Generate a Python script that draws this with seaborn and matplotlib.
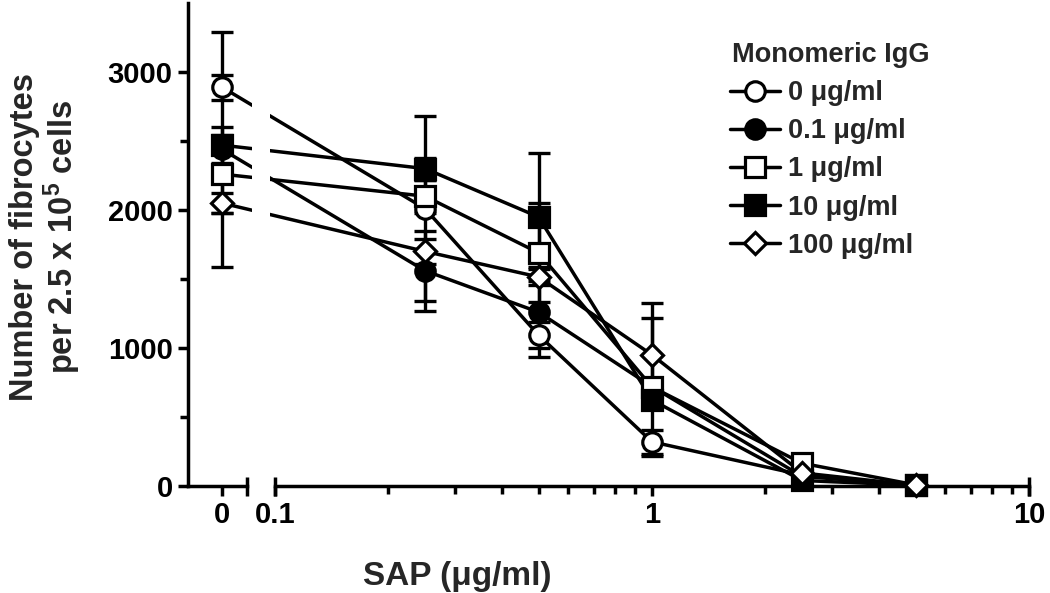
import matplotlib
matplotlib.use("Agg")
import matplotlib.pyplot as plt
from matplotlib.lines import Line2D
from matplotlib.ticker import FixedLocator, FixedFormatter, NullLocator, NullFormatter
import numpy as np
import pandas as pd
import seaborn as sns

# SAP concentrations (ug/ml) on the x axis
sap = [0, 0.25, 0.5, 1, 2.5, 5]

# monomeric IgG groups (legend)
igg_labels = ["0 \u03bcg/ml", "0.1 \u03bcg/ml", "1 \u03bcg/ml", "10 \u03bcg/ml", "100 \u03bcg/ml"]

# fibrocyte counts (mean +/- SEM)
igg0_mean = [2890, 2010, 1094, 320, 80, 5]
igg0_sem = [90, 670, 94, 88, 20, 5]
igg01_mean = [2440, 1560, 1260, 720, 70, 5]
igg01_sem = [850, 290, 325, 500, 20, 5]
igg1_mean = [2260, 2100, 1690, 717, 165, 8]
igg1_sem = [280, 120, 360, 60, 30, 5]
igg10_mean = [2470, 2300, 1950, 623, 40, 5]
igg10_sem = [130, 80, 463, 60, 20, 5]
igg100_mean = [2050, 1700, 1515, 950, 95, 5]
igg100_sem = [70, 90, 60, 376, 20, 5]

means = [igg0_mean, igg01_mean, igg1_mean, igg10_mean, igg100_mean]
sems = [igg0_sem, igg01_sem, igg1_sem, igg10_sem, igg100_sem]
markers = ["o", "o", "s", "s", "D"]
faces = ["white", "black", "white", "black", "white"]
msizes = [14, 14, 14, 14, 11]

sns.set_theme(style="ticks")
plt.rcParams['font.family'] = ['Liberation Sans', 'DejaVu Sans']
plt.rcParams['font.weight'] = 'bold'
plt.rcParams['mathtext.fontset'] = 'custom'
plt.rcParams['mathtext.rm'] = 'Liberation Sans:bold'
plt.rcParams['mathtext.it'] = 'Liberation Sans:bold'
plt.rcParams['mathtext.bf'] = 'Liberation Sans:bold'
plt.rcParams['mathtext.default'] = 'rm'

W, H = 1050, 593


def px_to_x(px):
    # log axis: 1 at 652 px, one decade = 377 px
    return 10 ** ((px - 652) / 377)


ZERO_POS = px_to_x(222)  # where "0" sits in front of the axis break

rows = []
for lab, m, s in zip(igg_labels, means, sems):
    for x, y, e in zip(sap, m, s):
        rows.append({"igg": lab, "sap": x, "pos": ZERO_POS if x == 0 else x, "mean": y, "sem": e})
df = pd.DataFrame(rows)

fig = plt.figure(figsize=(W / 100, H / 100), dpi=100)
bottom, height = (H - 486) / H, 483 / H
ax1 = fig.add_axes([188 / W, bottom, 64 / W, height])
ax2 = fig.add_axes([270 / W, bottom, 760 / W, height])

LW = 2.5
for ax, keep in [(ax1, lambda d: d["sap"] == 0), (ax2, lambda d: d["sap"] > 0)]:
    ax.set_xscale("log")
    # lines (clipped by each axes -> gap at the break)
    for lab in igg_labels:
        sub = df[df["igg"] == lab]
        sns.lineplot(data=sub, x="pos", y="mean", ax=ax, color="black", lw=LW,
                     sort=False, estimator=None, legend=False, zorder=2)
    for lab, mk, fc, ms in zip(igg_labels, markers, faces, msizes):
        sub = df[(df["igg"] == lab) & keep(df)]
        ax.errorbar(sub["pos"], sub["mean"], yerr=sub["sem"], fmt="none", ecolor="black",
                    elinewidth=2.4, capsize=8, capthick=2.4, zorder=3)
        ax.plot(sub["pos"], sub["mean"], linestyle="none", marker=mk, ms=ms, mfc=fc,
                mec="black", mew=2.3, zorder=4, clip_on=False)
    ax.set_ylim(0, 3500)
    ax.set_xlabel("")
    ax.set_ylabel("")
    for sp in ["top", "right"]:
        ax.spines[sp].set_visible(False)
    for sp in ax.spines.values():
        sp.set_linewidth(LW)
        sp.set_color("black")
    ax.tick_params(which="major", direction="out", length=7, width=LW, labelsize=21,
                   colors="black", pad=4)
    ax.tick_params(which="minor", direction="out", length=6, width=LW, colors="black")

# left piece: the zero
ax1.set_xlim(px_to_x(188), px_to_x(252))
ax1.spines["bottom"].set_bounds(px_to_x(188), px_to_x(247))
ax1.xaxis.set_major_locator(FixedLocator([ZERO_POS]))
ax1.xaxis.set_major_formatter(FixedFormatter(["0"]))
ax1.xaxis.set_minor_locator(NullLocator())
ax1.yaxis.set_major_locator(FixedLocator([0, 1000, 2000, 3000]))
ax1.yaxis.set_minor_locator(FixedLocator([500, 1500, 2500]))
ax1.set_yticklabels(["0", "1000", "2000", "3000"])

# right piece: log SAP axis
ax2.set_xlim(px_to_x(270), px_to_x(1030))
ax2.spines["left"].set_visible(False)
ax2.spines["bottom"].set_bounds(0.1, 10)
ax2.tick_params(axis="y", which="both", left=False, labelleft=False)
ax2.xaxis.set_major_locator(FixedLocator([0.1, 1, 10]))
ax2.xaxis.set_major_formatter(FixedFormatter(["0.1", "1", "10"]))
ax2.xaxis.set_minor_locator(FixedLocator([0.2, 0.3, 0.4, 0.5, 0.6, 0.7, 0.8, 0.9,
                                          2, 3, 4, 5, 6, 7, 8, 9]))
ax2.xaxis.set_minor_formatter(NullFormatter())

# break marks
for ax, xs in [(ax1, [px_to_x(247)]), (ax2, [0.1, 10])]:
    for x in xs:
        ax.plot([x, x], [-10 / 483, 9 / 483], transform=ax.get_xaxis_transform(),
                color="black", lw=LW, clip_on=False, solid_capstyle="butt")

handles = [Line2D([0], [0], color="black", lw=LW, marker=mk, ms=ms, mfc=fc, mec="black", mew=2.3)
           for mk, fc, ms in zip(markers, faces, msizes)]
leg = fig.legend(handles, igg_labels, loc="upper left",
                 bbox_to_anchor=(730 / W, 1 - 80 / H), frameon=False, fontsize=19.5,
                 handlelength=1.85, handletextpad=0.3,
                 labelspacing=0.45, borderpad=0, borderaxespad=0)
fig.text(732 / W, 1 - 55 / H, "Monomeric IgG", ha="left", va="center", fontsize=19.5)

fig.text(46 / W, 1 - 237 / H, "Number of fibrocytes\nper 2.5 x 10$^5$ cells",
         rotation=90, ha="center", va="center", fontsize=23.5, linespacing=1.05,
         multialignment="center")
fig.text(457 / W, 1 - 576 / H, "SAP (\u03bcg/ml)", ha="center", va="center", fontsize=24)

fig.savefig("out.png", dpi=100)
